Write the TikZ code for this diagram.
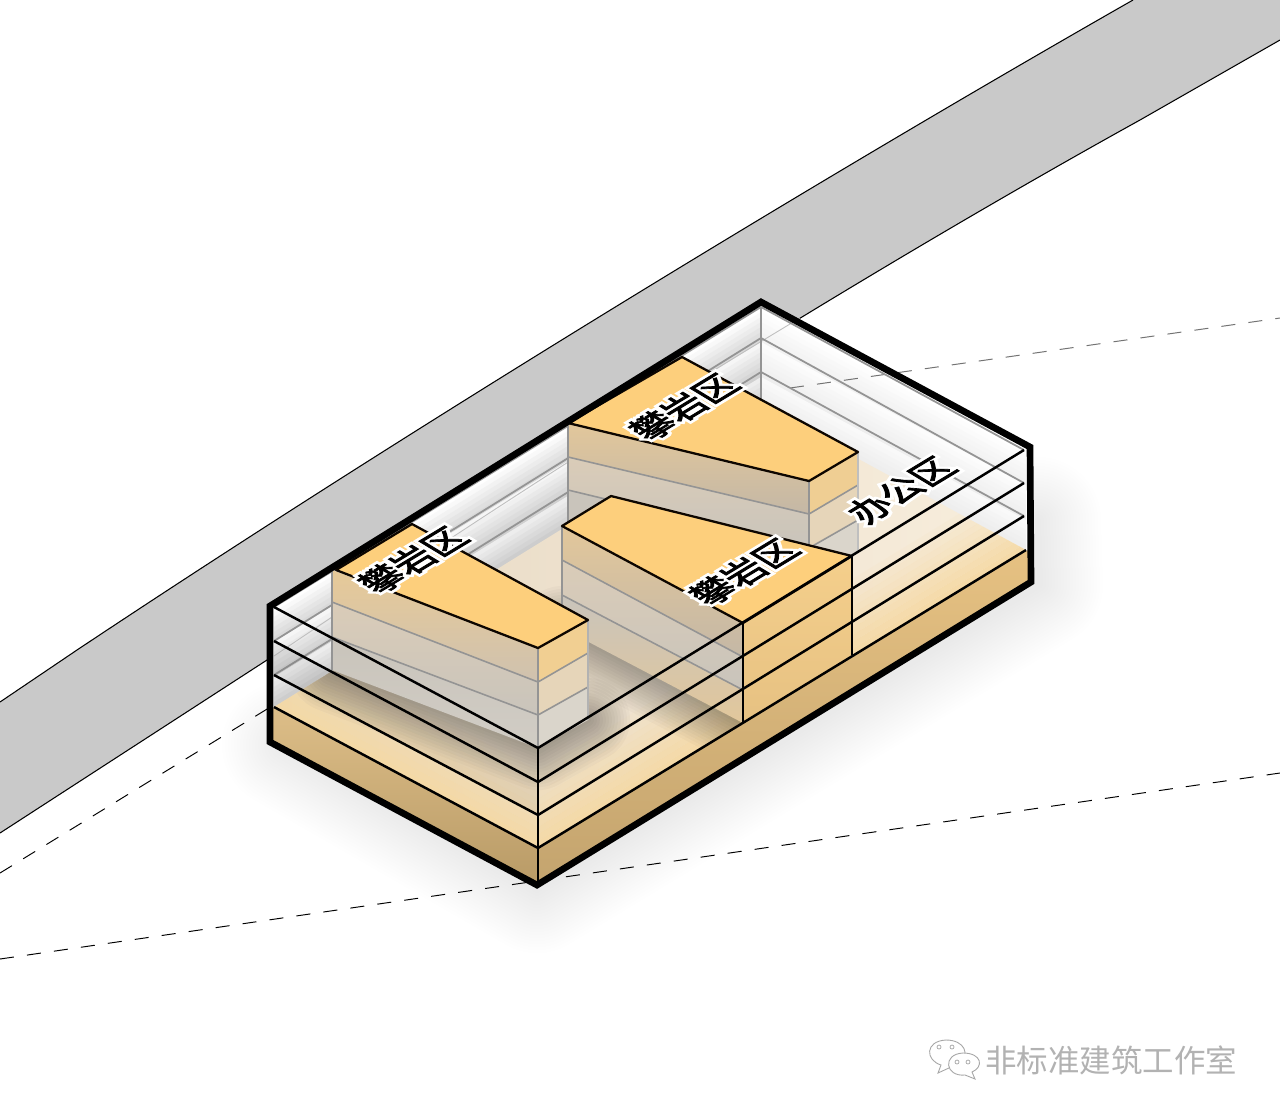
\documentclass[tikz,border=0pt]{standalone}
\usepackage{fontspec}
\newfontfamily\zonefont[FakeBold=2.5]{Noto Sans CJK SC}
\newfontfamily\halofont[FakeBold=20]{Noto Sans CJK SC}
\newfontfamily\markfont{Noto Sans CJK SC}
\usetikzlibrary{calc}
\definecolor{roadgrey}{HTML}{C9C9C9}
\definecolor{roofyellow}{HTML}{FDCF7C}
\definecolor{bandtan}{HTML}{E2C79B}
\definecolor{bandmid}{HTML}{DACCB8}
\definecolor{bandlow}{HTML}{C9C4BB}
\definecolor{sideorange}{HTML}{F1CF92}
\definecolor{sidemid}{HTML}{E6D5B9}
\definecolor{sidelow}{HTML}{DAD5CB}
\definecolor{slabdark}{HTML}{B89A66}
\definecolor{slabtan}{HTML}{DDBE88}
\definecolor{slabright}{HTML}{E6C182}
\definecolor{floorleft}{HTML}{E6D8C2}
\definecolor{floorpale}{HTML}{E2D6C5}
\definecolor{floorright}{HTML}{F8EEDD}
\definecolor{floortan}{HTML}{F5D9A4}
\tikzset{
    roof/.style={fill=roofyellow, draw=black!95!orange, line width=1.3pt, line join=round},
    faceline/.style={draw=black!42, line width=.9pt},
    glassline/.style={draw=black, line width=1.4pt},
    backline/.style={draw=black!42, line width=1pt},
    trackline/.style={draw=black, line width=.55pt, dash pattern=on 8pt off 7.5pt},
    zonelabel/.style={font=\zonefont\fontsize{20.5}{21}\selectfont, inner sep=0pt,
        cm={.86,.52,-.86,.52,(0,0)}},
    softshadow/.style={draw=black, opacity=.0045, line cap=round, line join=round}
}
\newcommand{\zonetext}[1]{\rlap{\halofont\color{white}#1}#1}
\begin{document}
\begin{tikzpicture}[x=.02cm,y=-.02cm]
\useasboundingbox (0,0) rectangle (1280,1117);
\fill[white] (0,0) rectangle (1280,1117);
%
\foreach \w in {6,12,...,130}
    \draw[softshadow, line width=\w*.02cm]
        (285,745) -- (537,890) -- (1040,585) -- (1038,520);
%
\fill[roadgrey] (0,702) -- (77,650) .. controls (400,435) and (800,190) .. (1133,0) -- (1280,0) -- (1280,40)
    -- (1140,120) .. controls (860,275) and (550,470) .. (267,660) -- (0,833) -- cycle;
\draw[line width=.6pt] (0,702) -- (77,650) .. controls (400,435) and (800,190) .. (1133,0);
\draw[line width=.6pt] (0,833) -- (267,660) .. controls (550,470) and (860,275) .. (1140,120) -- (1280,40);
%
\draw[trackline] (0,959) -- (1280,773);
\draw[trackline] (0,873) -- (272,706);
%
\fill[white] (270,606) -- (761,302) -- (1030,447) -- (1031,582) -- (537,885) -- (270,742) -- cycle;
\foreach \d in {0,...,19} {
    \pgfmathsetmacro{\zz}{\d*5}
    \pgfmathsetmacro{\wallleft}{\d/2+2*mod(\d,7)}
    \pgfmathsetmacro{\wallright}{\wallleft*.35}
    \fill[black!\wallleft] (761,{307+\zz}) -- (274,{607+\zz}) -- (274,{612.5+\zz}) -- (761,{312.5+\zz}) -- cycle;
    \fill[black!\wallright] (761,{307+\zz}) -- (1026,{450+\zz}) -- (1026,{455.5+\zz}) -- (761,{312.5+\zz}) -- cycle;
}
\draw[draw=black!25, line width=.5pt] (274,656) .. controls (550,470) and (700,378) .. (800,318);
\draw[trackline, draw=black!55] (790,388) -- (1280,318);
\draw[backline] (761,307) -- (274,607);
\draw[backline] (761,338) -- (274,641);
\draw[backline] (761,372) -- (274,675);
\draw[backline] (761,307) -- (1024,450);
\draw[backline] (761,338) -- (1024,483);
\draw[backline] (761,372) -- (1024,516);
\draw[backline, line width=1.2pt] (761,307) -- (761,406);
%
% floor
\shade[left color=floorleft, middle color=floorpale, right color=floorright]
    (274,707) -- (761,406) -- (1026,550) -- (538,848) -- cycle;
\begin{scope}
\clip (274,707) -- (761,406) -- (1026,550) -- (538,848) -- cycle;
\foreach \d [evaluate=\d as \zz using \d*7, evaluate=\d as \oo using .92-\d/12] in {0,...,10}
    \fill[floortan, opacity=\oo] (274,{707-\zz}) -- (538,{848-\zz}) -- (1026,{550-\zz})
        -- (1026,{543-\zz}) -- (538,{841-\zz}) -- (274,{700-\zz}) -- cycle;
\foreach \w in {6,12,...,84} {
    \draw[softshadow, opacity=.022, line width=\w*.02cm] (332,670) -- (538,748) -- (588,720);
    \draw[softshadow, opacity=.022, line width=\w*.02cm] (562,628) -- (743,723);
}
\end{scope}
%
% block at the back
\fill[bandlow] (568,490) -- (809,548) -- (809,578) -- (568,525) -- cycle;
\shade[top color=bandmid, bottom color=bandlow] (568,457) -- (809,514) -- (809,548) -- (568,490) -- cycle;
\shade[top color=bandtan, bottom color=bandmid!90!black] (568,423) -- (809,481) -- (809,514) -- (568,457) -- cycle;
\fill[sidemid] (809,514) -- (858,485) -- (858,520) -- (809,548) -- cycle;
\fill[sidelow] (809,548) -- (858,520) -- (858,552) -- (809,578) -- cycle;
\fill[sideorange!85!bandtan] (809,481) -- (858,453) -- (858,485) -- (809,514) -- cycle;
\draw[faceline] (568,423) -- (568,525);
\draw[faceline] (568,457) -- (809,514) -- (858,485);
\draw[faceline] (568,490) -- (809,548) -- (858,520);
\draw[faceline] (809,481) -- (809,578);
\draw[faceline, draw=black!25] (858,453) -- (858,552);
\draw[roof] (568,423) -- (682,357) -- (858,452) -- (809,481) -- cycle;
%
% block in the middle
\shade[top color=bandlow, bottom color=bandtan] (562,595) -- (743,690) -- (743,723) -- (562,628) -- cycle;
\shade[top color=bandmid, bottom color=bandlow] (562,560) -- (743,657) -- (743,690) -- (562,595) -- cycle;
\shade[top color=bandtan, bottom color=bandmid!90!black] (562,526) -- (743,623) -- (743,657) -- (562,560) -- cycle;
\shade[top color=sideorange!70!roofyellow, bottom color=slabright] (743,623) -- (852,556) -- (852,655) -- (743,723) -- cycle;
\draw[faceline] (562,526) -- (562,628);
\draw[faceline] (562,560) -- (743,657);
\draw[faceline] (562,595) -- (743,690);
\draw[roof] (562,526) -- (611,496) -- (852,556) -- (743,623) -- cycle;
%
% block on the left
\shade[top color=bandlow, bottom color=bandlow!85!white] (332,637) -- (538,715) -- (538,748) -- (332,670) -- cycle;
\shade[top color=bandmid, bottom color=bandlow] (332,602) -- (538,682) -- (538,715) -- (332,637) -- cycle;
\shade[top color=bandtan!70!sideorange, bottom color=bandmid!95!black] (332,570) -- (538,648) -- (538,682) -- (332,602) -- cycle;
\fill[sidelow] (538,715) -- (588,687) -- (588,720) -- (538,748) -- cycle;
\fill[sidemid] (538,682) -- (588,653) -- (588,687) -- (538,715) -- cycle;
\fill[sideorange] (538,648) -- (588,620) -- (588,653) -- (538,682) -- cycle;
\draw[faceline] (332,570) -- (332,670);
\draw[faceline] (332,602) -- (538,682) -- (588,653);
\draw[faceline] (332,637) -- (538,715) -- (588,687);
\draw[faceline, draw=black!30] (588,620) -- (588,720);
\draw[faceline] (538,648) -- (538,748);
\draw[roof] (336,570) -- (412,524) -- (588,620) -- (538,648) -- cycle;
%
% slab under the floor
\shade[top color=slabtan, bottom color=slabdark] (272,707) -- (538,848) -- (538,887) -- (272,742) -- cycle;
\shade[top color=slabright, bottom color=slabright!85!black] (538,848) -- (1028,550) -- (1030,582) -- (538,887) -- cycle;
%
% glass walls
\fill[black, opacity=.05] (274,641) -- (538,782) -- (538,815) -- (274,675) -- cycle;
\draw[glassline] (274,607) -- (538,748) -- (1024,450);
\draw[glassline] (274,641) -- (538,782) -- (1024,483);
\draw[glassline] (274,675) -- (538,815) -- (1024,516);
\draw[glassline] (274,707) -- (538,848) -- (1026,550);
\draw[glassline] (538,748) -- (538,885);
\draw[glassline, line width=1pt] (743,623) -- (743,723);
\draw[glassline, line width=1pt] (852,556) -- (852,655);
\draw[draw=black, line width=3.8pt, line join=miter]
    (270,606) -- (761,302) -- (1030,447) -- (1031,582) -- (537,885) -- (270,742) -- cycle;
%
\node[zonelabel] (climbleft) at (413,560) {\zonetext{攀岩区}};
\node[zonelabel] (climbback) at (684,407) {\zonetext{攀岩区}};
\node[zonelabel] (climbmiddle) at (744,572) {\zonetext{攀岩区}};
\node[zonelabel] (office) at (901,490) {\zonetext{办公区}};
%
% mark in the corner
\draw[black!35, line width=.5pt, fill=white] (951,1067) -- (938,1073) -- (941,1065)
    .. controls (925,1060) and (925,1041) .. (946,1040)
    .. controls (965,1040) and (970,1055) .. (960,1062) -- cycle;
\draw[black!35, line width=.5pt, fill=white] (972,1072) -- (975,1079) -- (965,1075)
    .. controls (945,1077) and (942,1054) .. (963,1053)
    .. controls (982,1053) and (984,1067) .. (972,1072) -- cycle;
\foreach \x/\y in {939/1047,952/1047,957/1062,968/1062}
    \draw[black!35, line width=.4pt] (\x,\y) circle (2);
\node[font=\markfont\fontsize{17.9}{18}\selectfont, text=black!30, inner sep=0pt, anchor=west]
    (marktext) at (985,1060) {非标准建筑工作室};
\end{tikzpicture}
\end{document}
